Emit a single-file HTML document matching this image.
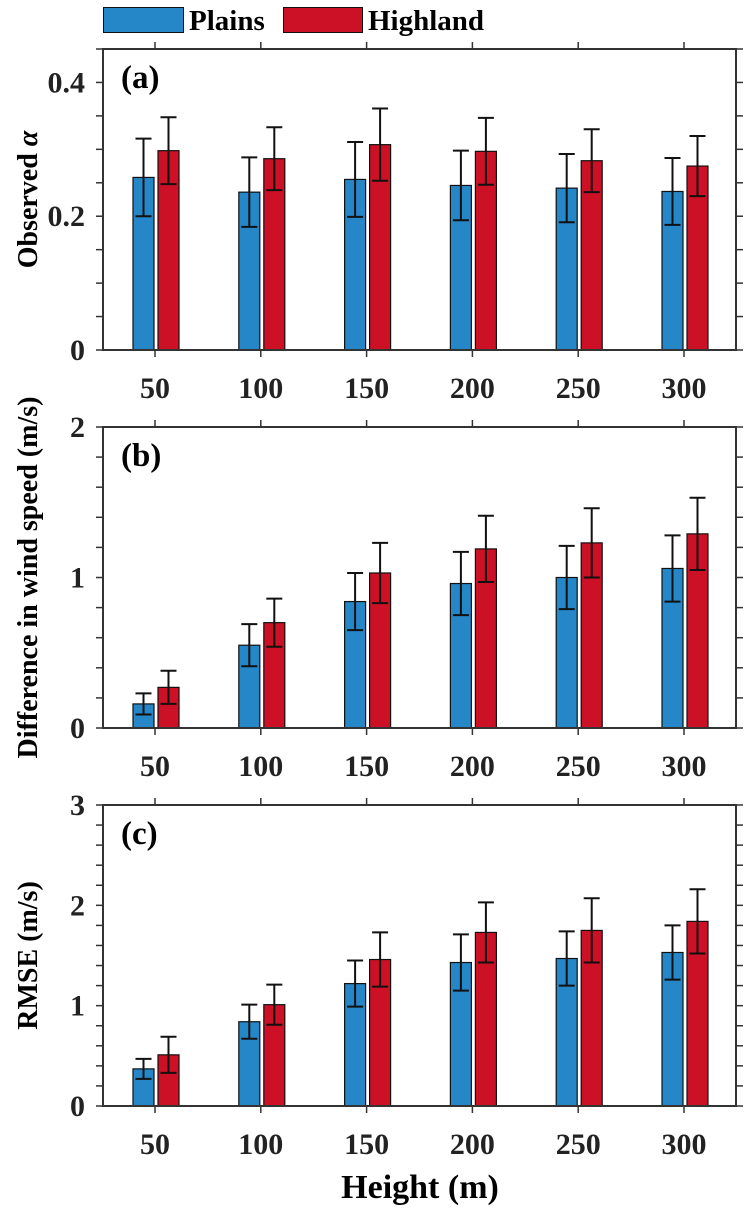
<!DOCTYPE html>
<html><head><meta charset="utf-8"><style>
body{margin:0;background:#fff}
svg{display:block;font-family:"Liberation Serif",serif;font-weight:bold}
</style></head><body>
<svg id="chart" width="756" height="1212" viewBox="0 0 756 1212" xmlns="http://www.w3.org/2000/svg">
<g>
<rect x="103.5" y="7.5" width="80" height="25" fill="#2587c8" stroke="#111" stroke-width="1"/>
<text x="189" y="30" font-size="29">Plains</text>
<rect x="283.5" y="7.5" width="79" height="25" fill="#cc1025" stroke="#111" stroke-width="1"/>
<text x="368" y="30" font-size="29">Highland</text>
</g>
<text x="420" y="1198" font-size="34" text-anchor="middle">Height (m)</text>
</svg>
<script>
const categories=["50","100","150","200","250","300"];
const aPlains=[0.258,0.236,0.255,0.246,0.242,0.237];
const aPlainsErr=[0.058,0.052,0.056,0.052,0.051,0.050];
const aHigh=[0.298,0.286,0.307,0.297,0.283,0.275];
const aHighErr=[0.050,0.047,0.054,0.050,0.047,0.045];
const bPlains=[0.16,0.55,0.84,0.96,1.00,1.06];
const bPlainsErr=[0.07,0.14,0.19,0.21,0.21,0.22];
const bHigh=[0.27,0.70,1.03,1.19,1.23,1.29];
const bHighErr=[0.11,0.16,0.20,0.22,0.23,0.24];
const cPlains=[0.37,0.84,1.22,1.43,1.47,1.53];
const cPlainsErr=[0.10,0.17,0.23,0.28,0.27,0.27];
const cHigh=[0.51,1.01,1.46,1.73,1.75,1.84];
const cHighErr=[0.18,0.20,0.27,0.30,0.32,0.32];
const aTicks=["0","0.2","0.4"];
const bTicks=["0","1","2"];
const cTicks=["0","1","2","3"];

const NS="http://www.w3.org/2000/svg";
const svg=document.getElementById('chart');
function mk(t,a,p){const e=document.createElementNS(NS,t);for(const k in a)e.setAttribute(k,a[k]);(p||svg).appendChild(e);return e;}
const L=103,R=736;
function xc(i){return 155+i*105.8;}
function panel(key,top,bot,ymax,minorStep,ticks,plains,pe,high,he,label,title){
  const g=mk('g',{});
  
  
  const y=v=>bot-(v/ymax)*(bot-top);
  const ax='#333';
  for(let v=0;v<=ymax+1e-9;v+=minorStep){
    const t=mk('line',{x1:L-7,x2:L,y1:y(v),y2:y(v),stroke:ax,'stroke-width':1.5},g);
    
    const t2=mk('line',{x1:R,x2:R+7,y1:y(v),y2:y(v),stroke:ax,'stroke-width':1.5},g);
    
  }
  ticks.forEach(s=>{
    const tx=mk('text',{x:L-18,y:y(parseFloat(s))+10,'font-size':30,'text-anchor':'end',fill:'#222'},g);
    tx.textContent=s;
    
  });
  categories.forEach((c,i)=>{
    const x=xc(i);
    const t1=mk('line',{x1:x,x2:x,y1:top-7,y2:top,stroke:ax,'stroke-width':1.5},g);
    
    const t2=mk('line',{x1:x,x2:x,y1:bot,y2:bot+7,stroke:ax,'stroke-width':1.5},g);
    
    const lb=mk('text',{x:x,y:bot+48,'font-size':30,'text-anchor':'middle',fill:'#222'},g);
    lb.textContent=c;
    
    [[plains[i],pe[i],x-22,'#2587c8','bar-plains-'+c],[high[i],he[i],x+3,'#cc1025','bar-highland-'+c]].forEach(([v,e,bx,col,nm])=>{
      const r=mk('rect',{x:bx,y:y(v),width:21,height:bot-y(v),fill:col,stroke:'#111','stroke-width':1.2},g);
      
      const cx=bx+10.5;
      const eb=mk('path',{d:`M${cx},${y(v+e)}V${y(v-e)}M${cx-8},${y(v+e)}H${cx+8}M${cx-8},${y(v-e)}H${cx+8}`,stroke:'#111','stroke-width':2,fill:'none'},g);
      
    });
  });
  const box=mk('rect',{x:L,y:top,width:R-L,height:bot-top,fill:'none',stroke:ax,'stroke-width':2},g);
  
  const pl=mk('text',{x:121,y:top+39,'font-size':33},g);
  pl.textContent=label;
  
  const yt=mk('text',{x:0,y:0,'font-size':28,'text-anchor':'middle',transform:`translate(37,${(top+bot)/2}) rotate(-90)`},g);
  yt.innerHTML=title;
  
}
panel('a',49,350,0.45,0.05,aTicks,aPlains,aPlainsErr,aHigh,aHighErr,'(a)','Observed <tspan font-style="italic">α</tspan>');
panel('b',427,728,2,0.2,bTicks,bPlains,bPlainsErr,bHigh,bHighErr,'(b)','Difference in wind speed (m/s)');
panel('c',805,1106,3,0.2,cTicks,cPlains,cPlainsErr,cHigh,cHighErr,'(c)','RMSE (m/s)');
</script>
</body></html>
